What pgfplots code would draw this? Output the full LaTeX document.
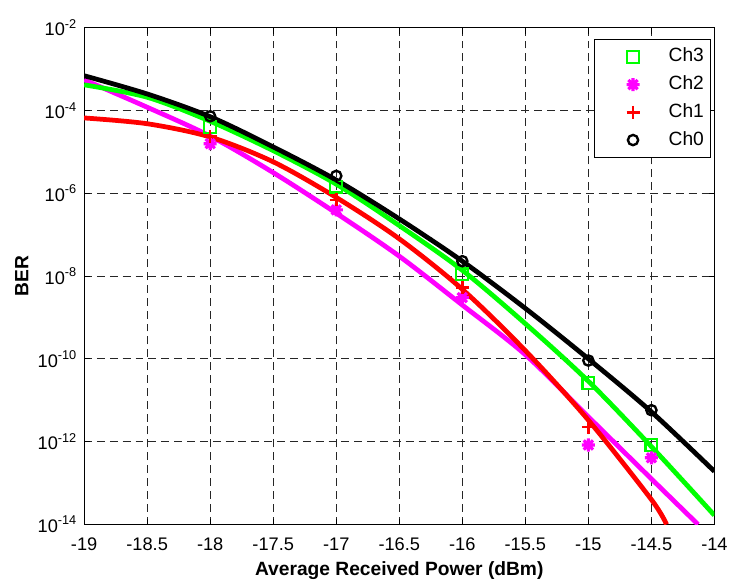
\documentclass[border=0pt]{standalone}
\usepackage{pgfplots}
\pgfplotsset{compat=1.18}
\usepackage{fontspec}
\setmainfont{Liberation Sans}

% MATLAB-like '*' marker (plus and cross)
\pgfdeclareplotmark{mstar}{%
  \pgfpathmoveto{\pgfqpoint{-\pgfplotmarksize}{0pt}}%
  \pgfpathlineto{\pgfqpoint{\pgfplotmarksize}{0pt}}%
  \pgfpathmoveto{\pgfqpoint{0pt}{-\pgfplotmarksize}}%
  \pgfpathlineto{\pgfqpoint{0pt}{\pgfplotmarksize}}%
  \pgfpathmoveto{\pgfqpoint{-.707\pgfplotmarksize}{-.707\pgfplotmarksize}}%
  \pgfpathlineto{\pgfqpoint{.707\pgfplotmarksize}{.707\pgfplotmarksize}}%
  \pgfpathmoveto{\pgfqpoint{-.707\pgfplotmarksize}{.707\pgfplotmarksize}}%
  \pgfpathlineto{\pgfqpoint{.707\pgfplotmarksize}{-.707\pgfplotmarksize}}%
  \pgfusepathqstroke}

\definecolor{mgreen}{rgb}{0,1,0}
\definecolor{mmag}{rgb}{1,0,1}
\definecolor{mred}{rgb}{1,0,0}

\begin{document}
\fontsize{9.7}{11.6}\selectfont
\begin{tikzpicture}
\begin{axis}[
    at={(0,0)}, anchor=south west,
    scale only axis,
    width=318.5pt, height=251pt,
    xmin=-19, xmax=-14,
    ymode=log, log basis y=10,
    ymin=1e-14, ymax=1e-2,
    xtick={-19,-18.5,...,-14},
    ytick={1e-14,1e-12,1e-10,1e-8,1e-6,1e-4,1e-2},
    minor ytick={},
    /pgf/number format/assume math mode=true,
    xticklabel={\pgfmathprintnumber{\tick}},
    yticklabel={10\textsuperscript{\pgfmathparse{int(round(\tick))}\pgfmathresult}},
    tick label style={font=\fontsize{9.2}{11}\selectfont},
    tick align=inside,
    xtick pos=both, ytick pos=both,
    major tick length=3pt,
    tick style={black, line width=0.5pt},
    axis line style={line width=0.5pt},
    grid=major,
    major grid style={black!85, line width=0.45pt, dash pattern=on 4pt off 2.5pt},
    xlabel={\bfseries Average Received Power (dBm)},
    ylabel={\bfseries BER},
    xticklabel style={yshift=-3.5pt},
    xlabel style={yshift=1.5pt},
    ylabel style={yshift=-2pt},
    legend style={at={(0.995,0.978)}, anchor=north east, draw=black,
        line width=0.5pt, fill=white, inner xsep=3.5pt, inner ysep=4.5pt,
        row sep=5pt, nodes={inner sep=0pt, text height=7pt, text depth=2pt}},
    legend cell align=left,
    legend image code/.code={%
        \pgfpathrectangle{\pgfqpoint{0pt}{-3pt}}{\pgfqpoint{28pt}{6pt}}%
        \pgfusepath{use as bounding box}%
        \draw[only marks] plot coordinates {(16pt,0pt)};},
    /tikz/every odd column/.append style={column sep=6pt},
]
% measured points (markers)
\addplot[only marks, mgreen, mark=square, mark size=3pt, line width=1.1pt]
coordinates {(-18,3.98e-5) (-17,1.45e-6) (-16,1.10e-8) (-15,2.63e-11) (-14.5,8.32e-13)};
\addlegendentry{Ch3}
\addplot[only marks, mmag, mark=mstar, mark size=3.3pt, line width=1.6pt]
coordinates {(-18,1.58e-5) (-17,3.98e-7) (-16,3.02e-9) (-15,8.32e-13) (-14.5,4.07e-13)};
\addlegendentry{Ch2}
\addplot[only marks, mred, mark=+, mark size=3.3pt, line width=1.3pt]
coordinates {(-18,2.34e-5) (-17,6.92e-7) (-16,5.25e-9) (-15,2.24e-12)};
\addlegendentry{Ch1}
\addplot[only marks, black, mark=o, mark size=2.6pt, line width=1.2pt]
coordinates {(-18,7.24e-5) (-17,2.63e-6) (-16,2.29e-8) (-15,9.12e-11) (-14.5,5.75e-12)};
\addlegendentry{Ch0}
% fitted curves
\addplot[mmag, line width=2.4pt, smooth, no marks, forget plot]
coordinates {(-19,5.50e-4) (-18.5,1.20e-4) (-18,2.40e-5) (-17.5,3.16e-6) (-17,3.31e-7)
  (-16.5,3.02e-8) (-16,2.00e-9) (-15.5,1.26e-10) (-15,3.98e-12) (-14.5,1.26e-13) (-14.13,1e-14)};
\addplot[mred, line width=2.4pt, smooth, no marks, forget plot]
coordinates {(-19,6.61e-5) (-18.5,4.79e-5) (-18,2.29e-5) (-17.5,5.75e-6) (-17,7.94e-7)
  (-16.5,7.94e-8) (-16,4.79e-9) (-15.5,1.58e-10) (-15,3.31e-12) (-14.5,3.98e-14) (-14.38,1e-14)};
\addplot[mgreen, line width=2.4pt, smooth, no marks, forget plot]
coordinates {(-19,4.17e-4) (-18.5,2.09e-4) (-18,5.50e-5) (-17.5,1.07e-5) (-17,1.66e-6)
  (-16.5,1.66e-7) (-16,1.38e-8) (-15.5,7.08e-10) (-15,2.88e-11) (-14.5,7.59e-13) (-14,1.66e-14)};
\addplot[black, line width=2.4pt, smooth, no marks, forget plot]
coordinates {(-19,6.92e-4) (-18.5,2.51e-4) (-18,7.08e-5) (-17.5,1.32e-5) (-17,2.09e-6)
  (-16.5,2.40e-7) (-16,2.29e-8) (-15.5,1.66e-9) (-15,1.0e-10) (-14.5,5.25e-12) (-14,1.91e-13)};
\end{axis}
\path[use as bounding box] (-42.5pt,-24.5pt) rectangle (324.5pt,265pt);
\end{tikzpicture}
\end{document}
